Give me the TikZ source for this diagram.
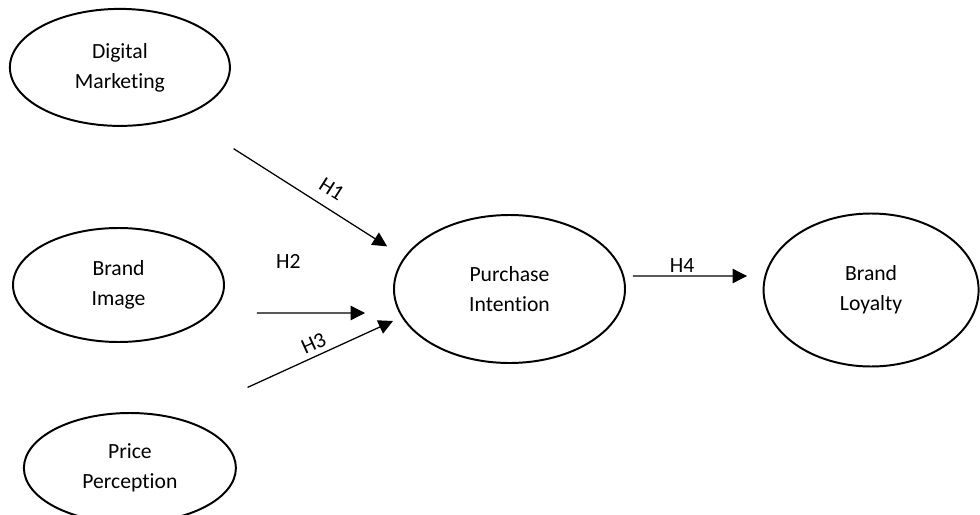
\documentclass[tikz,border=0pt]{standalone}
\usepackage{fontspec}
\setmainfont{Carlito}[RawFeature={-liga;-clig;-calt;-dlig}]
\usetikzlibrary{arrows.meta, positioning, shapes.geometric}
\tikzstyle{construct} = [ellipse, draw=black, line width=1.4pt, text centered, align=center, inner sep=0pt, font=\fontsize{15.4pt}{21.3pt}\selectfont]
\tikzstyle{hyp} = [font=\fontsize{15.4pt}{21.3pt}\selectfont]
\tikzstyle{arrow} = [line width=0.9pt, -{Triangle[length=0.36cm, width=0.36cm]}]

\begin{document}
\begin{tikzpicture}[node distance=9cm]
  \useasboundingbox (0,0) rectangle (24.5,-12.875);
  % Mediátor
  \node (purchase) [construct, minimum width=5.775cm, minimum height=3.7cm] at (12.7375,-7.225) {Purchase\\Intention};
  % Független változók
  \node (digital) [construct, minimum width=5.5cm, minimum height=2.925cm, left of=purchase, xshift=-0.74cm, yshift=5.54cm] {Digital\\Marketing};
  \node (image) [construct, minimum width=5.275cm, minimum height=2.85cm, left of=purchase, xshift=-0.775cm, yshift=0.1cm] {Brand\\Image};
  \node (price) [construct, minimum width=5.3cm, minimum height=2.75cm, left of=purchase, xshift=-0.49cm, yshift=-4.475cm] {Price\\Perception};
  % Függő változó
  \node (loyalty) [construct, minimum width=5.375cm, minimum height=3.825cm, right of=purchase, xshift=0.04cm, yshift=-0.025cm] {Brand\\Loyalty};
  % Nyilak
  \draw [arrow] ([xshift=0.88cm, yshift=-0.98cm]digital.south east) -- node[hyp, sloped, above=0.15cm, pos=0.575] {H1} ([xshift=-1cm, yshift=-0.26cm]purchase.north west);
  \draw [arrow] ([xshift=0.8cm, yshift=-0.7cm]image.east) -- node[hyp, pos=0.29, above=0.975cm] {H2} ([xshift=-0.7cm, yshift=-0.6cm]purchase.west);
  \draw [arrow] ([xshift=1.05cm, yshift=1.025cm]price.north east) -- node[hyp, sloped, above, pos=0.49] {H3} ([yshift=-0.8cm]purchase.west);
  \draw [arrow] ([xshift=0.175cm, yshift=0.325cm]purchase.east) -- node[hyp, pos=0.43, above=-0.05cm] {H4} ([xshift=-0.39cm, yshift=0.35cm]loyalty.west);
\end{tikzpicture}
\end{document}
